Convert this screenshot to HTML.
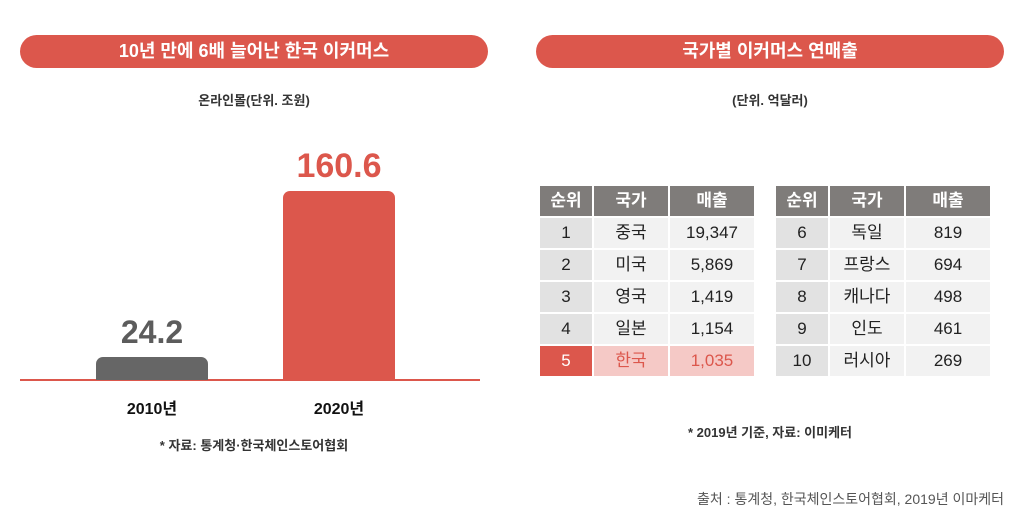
<!DOCTYPE html>
<html><head><meta charset="utf-8"><style>
body{margin:0;width:1024px;height:524px;background:#fff;position:relative;overflow:hidden;font-family:"Liberation Sans","Noto Sans CJK KR",sans-serif;}
.a{position:absolute}
.pill{position:absolute;top:35px;height:33px;width:468px;background:#dc574c;border-radius:17px;color:#fff;font-size:18px;font-weight:bold;text-align:center;line-height:33px}
.c{position:absolute;text-align:center;white-space:nowrap}
.cell{position:absolute;height:30px;line-height:30px;text-align:center;font-size:17px;color:#222}
.h{background:#7f7c7a;color:#fff;font-weight:bold}
.g1{background:#e2e2e2}.g2{background:#f2f2f2}
</style></head><body>
<div class="pill" style="left:20px">10년 만에 6배 늘어난 한국 이커머스</div>
<div class="pill" style="left:536px">국가별 이커머스 연매출</div>
<div class="c" style="left:20px;width:468px;top:90px;font-size:13px;font-weight:bold;color:#333">온라인몰(단위. 조원)</div>
<div class="c" style="left:536px;width:468px;top:90px;font-size:13px;font-weight:bold;color:#333">(단위. 억달러)</div>

<div class="a" style="left:20px;top:379px;width:460px;height:2px;background:#dc574c"></div>
<div class="a" style="left:96px;top:357px;width:112px;height:23px;background:#666;border-radius:7px 7px 0 0"></div>
<div class="a" style="left:283px;top:191px;width:112px;height:189px;background:#dc574c;border-radius:7px 7px 0 0"></div>
<div class="c" style="left:96px;width:112px;top:314px;font-size:32px;font-weight:bold;color:#5c5c5c">24.2</div>
<div class="c" style="left:264px;width:150px;top:147px;font-size:34px;font-weight:bold;color:#dc574c">160.6</div>
<div class="c" style="left:96px;width:112px;top:395px;font-size:16px;font-weight:bold;color:#111">2010년</div>
<div class="c" style="left:283px;width:112px;top:395px;font-size:16px;font-weight:bold;color:#111">2020년</div>
<div class="c" style="left:20px;width:468px;top:435px;font-size:13px;font-weight:bold;color:#333">* 자료: 통계청·한국체인스토어협회</div>

<div id="t"></div>
<div class="c" style="left:536px;width:468px;top:422px;font-size:13px;font-weight:bold;color:#333">* 2019년 기준, 자료: 이미케터</div>
<div class="a" style="right:20px;top:489px;font-size:14px;color:#555">출처 : 통계청, 한국체인스토어협회, 2019년 이마케터</div>
<script>
var L=[["1","중국","19,347"],["2","미국","5,869"],["3","영국","1,419"],["4","일본","1,154"],["5","한국","1,035"]];
var R=[["6","독일","819"],["7","프랑스","694"],["8","캐나다","498"],["9","인도","461"],["10","러시아","269"]];
var h="";
function tb(x0,rows,hl){var xs=[x0,x0+54,x0+130],ws=[52,74,84];var hd=["순위","국가","매출"];
for(var j=0;j<3;j++)h+='<div class="cell h" style="left:'+xs[j]+'px;top:186px;width:'+ws[j]+'px">'+hd[j]+'</div>';
rows.forEach(function(r,i){var y=218+i*32;for(var j=0;j<3;j++){var cls=j==0?"g1":"g2",st="";
if(hl&&i==4){st=j==0?"background:#dc574c;color:#fff;":"background:#f5c9c6;color:#dc574c;";}
h+='<div class="cell '+cls+'" style="left:'+xs[j]+'px;top:'+y+'px;width:'+ws[j]+'px;'+st+'">'+r[j]+'</div>';}});}
tb(540,L,true);tb(776,R,false);
document.getElementById("t").innerHTML=h;
</script>
</body></html>
